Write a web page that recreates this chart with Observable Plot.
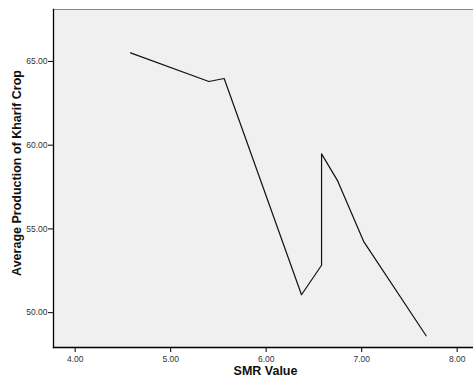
<!DOCTYPE html>
<html><head><meta charset="utf-8">
<script src="https://cdn.jsdelivr.net/npm/d3@7"></script>
<script src="https://cdn.jsdelivr.net/npm/@observablehq/plot@0.6"></script>
<style>body{margin:0;background:#fff}</style>
</head><body><div id="chart"></div>
<script>
const smr = [4.58, 5.40, 5.56, 6.37, 6.58, 6.58, 6.75, 7.02, 7.675];
const production = [65.51, 63.80, 63.98, 51.07, 52.83, 59.48, 57.85, 54.26, 48.62];
const xTicks = [4, 5, 6, 7, 8];
const yTicks = [50, 55, 60, 65];
const xLabel = "SMR Value";
const yLabel = "Average Production of Kharif Crop";

const data = smr.map((x, i) => ({x, y: production[i]}));
const fmt = d3.format(".2f");

const chart = Plot.plot({
  width: 473, height: 383,
  marginLeft: 53, marginTop: 9, marginBottom: 36, marginRight: 0,
  style: {fontFamily: "Arial, 'Liberation Sans', sans-serif", background: "#fff"},
  x: {domain: [3.773, 8.171], axis: null},
  y: {domain: [47.92, 68.1], axis: null},
  marks: [
    Plot.frame({fill: "#f0f0f0", stroke: "none"}),
    Plot.frame({anchor: "top", stroke: "#8a8a8a", strokeWidth: 1}),
    Plot.frame({anchor: "left", stroke: "#000", strokeWidth: 1.3}),
    Plot.frame({anchor: "bottom", stroke: "#000", strokeWidth: 1.3}),
    Plot.axisY(yTicks, {tickSize: 5, tickFormat: fmt, fontSize: 8.5, fill: "#333", stroke: "#000", tickPadding: 1, label: null}),
    Plot.axisX(xTicks, {tickSize: 5, tickFormat: fmt, fontSize: 8.5, fill: "#333", stroke: "#000", tickPadding: 3, label: null}),
    Plot.line(data, {x: "x", y: "y", stroke: "#111", strokeWidth: 1.2}),
    Plot.text([yLabel], {frameAnchor: "left", textAnchor: "middle", dx: -37, dy: -5.5, rotate: -90, fontSize: 12.5, fontWeight: "bold", fill: "#111"}),
    Plot.text([xLabel], {frameAnchor: "bottom", textAnchor: "middle", dx: 2, dy: 27, fontSize: 12.5, fontWeight: "bold", fill: "#111"})
  ]
});
document.getElementById("chart").append(chart);
</script></body></html>
